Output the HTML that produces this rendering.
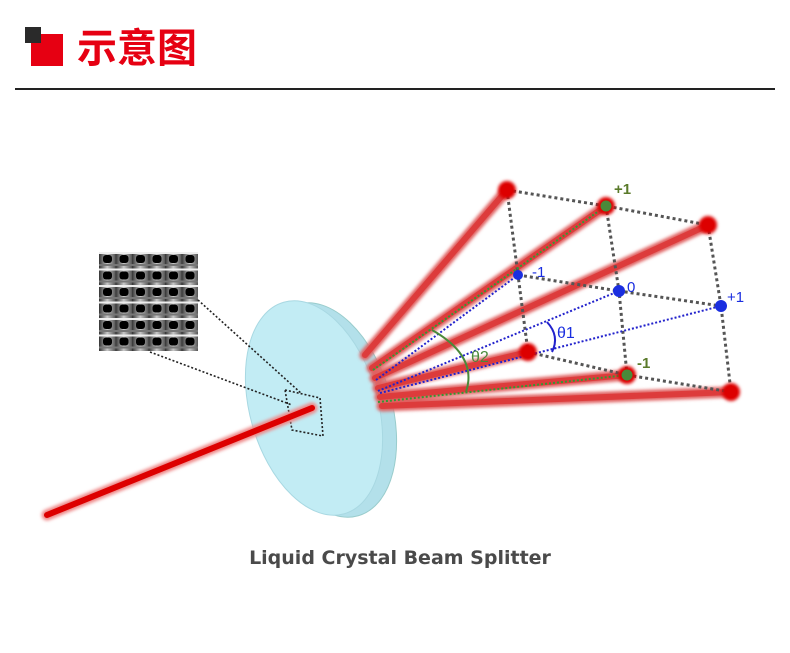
<!DOCTYPE html>
<html><head><meta charset="utf-8"><style>
body{margin:0;background:#fff;width:790px;height:648px;overflow:hidden}
</style></head><body>
<svg width="790" height="648" viewBox="0 0 790 648" xmlns="http://www.w3.org/2000/svg">
<defs>
<linearGradient id="cg" x1="0" y1="0" x2="1" y2="0">
<stop offset="0" stop-color="#333"/><stop offset="0.5" stop-color="#c8c8c8"/><stop offset="1" stop-color="#555"/></linearGradient>
<pattern id="pat" x="99" y="252" width="16.5" height="16.5" patternUnits="userSpaceOnUse">
<rect width="16.5" height="16.5" fill="url(#cg)"/>
<rect y="0" width="16.5" height="2" fill="#eee"/>
<rect x="4" y="3" width="9" height="8" rx="3" fill="#000"/>
<rect x="0" y="12" width="16.5" height="2" fill="#777"/>
</pattern>
<filter id="bl" x="-10%" y="-10%" width="120%" height="120%"><feGaussianBlur stdDeviation="1.5"/></filter>
</defs>
<rect x="31" y="34" width="32" height="32" fill="#e60012"/>
<rect x="25" y="27" width="16" height="16" fill="#2a2a2a"/>
<text x="77" y="62" font-family="'Noto Sans CJK SC',sans-serif" font-weight="bold" font-size="40" fill="#e60012">示意图</text>
<rect x="15" y="88" width="760" height="2" fill="#222"/>

<rect x="99" y="252" width="99" height="99" fill="url(#pat)"/>

<!-- disc -->
<ellipse cx="328" cy="410" rx="64" ry="110" transform="rotate(-16 328 410)" fill="#b3e0ea" stroke="#9cc" stroke-width="1"/>
<ellipse cx="314" cy="408" rx="64" ry="110" transform="rotate(-16 314 408)" fill="#c2ecf4" stroke="#a8d8e2" stroke-width="1"/>

<g stroke="#222" stroke-width="1.6" stroke-dasharray="2,2" fill="none">
<line x1="198" y1="300" x2="302" y2="394"/>
<line x1="150" y1="352" x2="292" y2="405"/>
<polygon points="285,390 320,398 323,436 292,430"/>
</g>

<g stroke-linecap="round">
<line x1="47" y1="515" x2="312" y2="408" stroke="#e88" stroke-width="11" filter="url(#bl)"/>
<line x1="47" y1="515" x2="312" y2="408" stroke="#d00" stroke-width="6"/>
</g>

<g stroke-linecap="round" filter="url(#bl)" stroke="#e06060" stroke-width="11">
<line x1="365" y1="355" x2="507" y2="190"/>
<line x1="372" y1="368" x2="606" y2="206"/>
<line x1="375" y1="378" x2="708" y2="225"/>
<line x1="378" y1="388" x2="528" y2="352"/>
<line x1="380" y1="397" x2="627" y2="375"/>
<line x1="382" y1="406" x2="731" y2="392"/>
</g>
<g stroke-linecap="round" stroke="#d33" stroke-width="6" opacity="0.8">
<line x1="365" y1="355" x2="507" y2="190"/>
<line x1="372" y1="368" x2="606" y2="206"/>
<line x1="375" y1="378" x2="708" y2="225"/>
<line x1="378" y1="388" x2="528" y2="352"/>
<line x1="380" y1="397" x2="627" y2="375"/>
<line x1="382" y1="406" x2="731" y2="392"/>
</g>

<g stroke="#555" stroke-width="3" stroke-dasharray="3,3" fill="none">
<polyline points="507,190 606,206 708,225"/>
<polyline points="518,275 619,291 721,306"/>
<polyline points="528,352 627,375 731,392"/>
<polyline points="507,190 518,275 528,352"/>
<polyline points="606,206 619,291 627,375"/>
<polyline points="708,225 721,306 731,392"/>
</g>
<g stroke="#393" stroke-width="2" stroke-dasharray="2,2" fill="none">
<line x1="373" y1="370" x2="606" y2="206"/>
<line x1="378" y1="402" x2="627" y2="375"/>
</g>
<g stroke="#22c" stroke-width="2" stroke-dasharray="2,2" fill="none">
<line x1="376" y1="380" x2="518" y2="275"/>
<line x1="378" y1="391" x2="619" y2="291"/>
<line x1="380" y1="393" x2="721" y2="306"/>
</g>
<path d="M547,322 Q560,336 552,352" stroke="#22c" stroke-width="2" fill="none"/>
<path d="M432,330 Q478,356 466,392" stroke="#4a8a3a" stroke-width="2" fill="none"/>

<g fill="#d00" filter="url(#bl)"><circle cx="507" cy="190" r="9"/><circle cx="708" cy="225" r="9"/><circle cx="528" cy="352" r="9"/><circle cx="731" cy="392" r="9"/><circle cx="606" cy="206" r="9"/><circle cx="627" cy="375" r="9"/></g>
<g fill="#d00"><circle cx="507" cy="190" r="6"/><circle cx="708" cy="225" r="6"/><circle cx="528" cy="352" r="6"/><circle cx="731" cy="392" r="6"/></g>
<g fill="#4a8a3a"><circle cx="606" cy="206" r="5.5"/><circle cx="627" cy="375" r="5.5"/></g>
<g fill="#1a2ee0"><circle cx="518" cy="275" r="5"/><circle cx="619" cy="291" r="6"/><circle cx="721" cy="306" r="6"/></g>

<g font-family="'Liberation Sans',sans-serif" font-size="15">
<text x="614" y="194" fill="#5a7a2a" font-weight="bold">+1</text>
<text x="532" y="277" fill="#1a2ee0">-1</text>
<text x="627" y="292" fill="#1a2ee0">0</text>
<text x="727" y="302" fill="#1a2ee0">+1</text>
<text x="637" y="368" fill="#5a7a2a" font-weight="bold">-1</text>
<text x="557" y="338" fill="#1a2ee0" font-size="16">θ1</text>
<text x="471" y="362" fill="#4a8a3a" font-size="16">θ2</text>
</g>

<text x="400" y="564" text-anchor="middle" font-family="'DejaVu Sans','Liberation Sans',sans-serif" font-weight="bold" font-size="19" fill="#4a4a4a">Liquid Crystal Beam Splitter</text>
</svg>
</body></html>
